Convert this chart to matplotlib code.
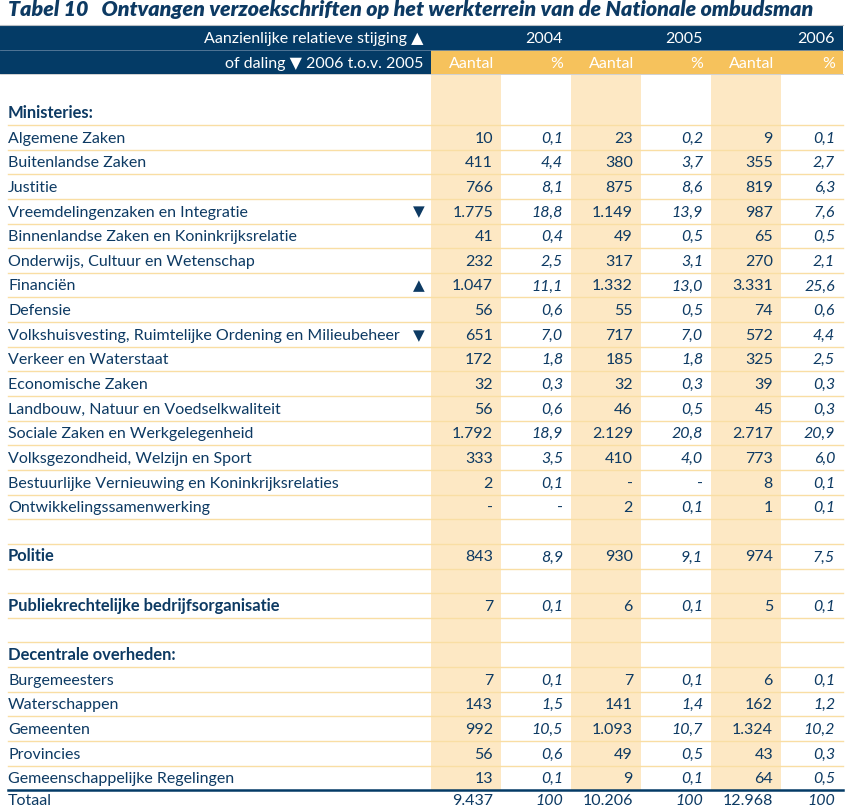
import matplotlib as mpl
import matplotlib.pyplot as plt

mpl.rcParams['font.family'] = ['Lato', 'DejaVu Sans']

### colours
NAVY = '#043b66'
TXT = '#0d3a63'
ORANGE = '#f6c25c'
BAND = '#fde8c4'
RULE = '#f9dea4'

### data
title = "Tabel 10   Ontvangen verzoekschriften op het werkterrein van de Nationale ombudsman"
years = ['2004', '2005', '2006']
head1 = "Aanzienlijke relatieve stijging \u25B2"
head2 = "of daling \u25BC 2006 t.o.v. 2005"

labels = ["", "Ministeries:",
          "Algemene Zaken", "Buitenlandse Zaken", "Justitie",
          "Vreemdelingenzaken en Integratie",
          "Binnenlandse Zaken en Koninkrijksrelatie",
          "Onderwijs, Cultuur en Wetenschap", "Financiën", "Defensie",
          "Volkshuisvesting, Ruimtelijke Ordening en Milieubeheer",
          "Verkeer en Waterstaat", "Economische Zaken",
          "Landbouw, Natuur en Voedselkwaliteit",
          "Sociale Zaken en Werkgelegenheid",
          "Volksgezondheid, Welzijn en Sport",
          "Bestuurlijke Vernieuwing en Koninkrijksrelaties",
          "Ontwikkelingssamenwerking", "",
          "Politie", "",
          "Publiekrechtelijke bedrijfsorganisatie", "",
          "Decentrale overheden:",
          "Burgemeesters", "Waterschappen", "Gemeenten", "Provincies",
          "Gemeenschappelijke Regelingen",
          "Totaal"]
bold_labels = ["Ministeries:", "Politie",
               "Publiekrechtelijke bedrijfsorganisatie", "Decentrale overheden:"]
trends = {"Vreemdelingenzaken en Integratie": "\u25BC",
          "Financiën": "\u25B2",
          "Volkshuisvesting, Ruimtelijke Ordening en Milieubeheer": "\u25BC"}

# None = empty cell, 0 = '-'
aantal_2004 = [None, None, 10, 411, 766, 1775, 41, 232, 1047, 56, 651, 172, 32, 56,
               1792, 333, 2, 0, None, 843, None, 7, None, None,
               7, 143, 992, 56, 13, 9437]
pct_2004 = [None, None, 0.1, 4.4, 8.1, 18.8, 0.4, 2.5, 11.1, 0.6, 7.0, 1.8, 0.3, 0.6,
            18.9, 3.5, 0.1, 0, None, 8.9, None, 0.1, None, None,
            0.1, 1.5, 10.5, 0.6, 0.1, 100]
aantal_2005 = [None, None, 23, 380, 875, 1149, 49, 317, 1332, 55, 717, 185, 32, 46,
               2129, 410, 0, 2, None, 930, None, 6, None, None,
               7, 141, 1093, 49, 9, 10206]
pct_2005 = [None, None, 0.2, 3.7, 8.6, 13.9, 0.5, 3.1, 13.0, 0.5, 7.0, 1.8, 0.3, 0.5,
            20.8, 4.0, 0, 0.1, None, 9.1, None, 0.1, None, None,
            0.1, 1.4, 10.7, 0.5, 0.1, 100]
aantal_2006 = [None, None, 9, 355, 819, 987, 65, 270, 3331, 74, 572, 325, 39, 45,
               2717, 773, 8, 1, None, 974, None, 5, None, None,
               6, 162, 1324, 43, 64, 12968]
pct_2006 = [None, None, 0.1, 2.7, 6.3, 7.6, 0.5, 2.1, 25.6, 0.6, 4.4, 2.5, 0.3, 0.3,
            20.9, 6.0, 0.1, 0.1, None, 7.5, None, 0.1, None, None,
            0.1, 1.2, 10.2, 0.3, 0.5, 100]


def fmt_count(v):
    if v == 0:
        return '-'
    return f"{v:,}".replace(',', '.')


def fmt_pct(v):
    if v == 0:
        return '-'
    if v == 100:
        return '100'
    return f"{v:.1f}".replace('.', ',')


### layout (pixels)
W, H = 851, 809
x_left, x_right = 8, 843
col_edges = [431, 501, 571, 641, 711, 781, 843]
y_body, pitch = 75.7, 24.64
fs = 11.5

fig = plt.figure(figsize=(W / 100, H / 100), dpi=100)
ax = fig.add_axes([0, 0, 1, 1])
ax.set_xlim(0, W)
ax.set_ylim(H, 0)
ax.axis('off')

# title
ax.text(x_left, 15.5, title, fontsize=15.4, fontweight='heavy', style='italic',
        color=TXT, ha='left', va='baseline')

# header bars
ax.plot([0, x_right], [24.5, 24.5], color='#b9bec4', lw=0.8)
ax.fill_between([0, x_right], 25, 49.5, color=NAVY, lw=0)
ax.fill_between([0, col_edges[0]], 49.5, 74, color=NAVY, lw=0)
ax.fill_between([col_edges[0], x_right], 49.5, 74, color=ORANGE, lw=0)
ax.plot([0, x_right], [49.5, 49.5], color='#5d7f9e', lw=0.6)
ax.plot([0, x_right], [74.2, 74.2], color='#c9c9c9', lw=0.6)

ax.text(col_edges[0] - 8, 43.3, head1, fontsize=fs, color='white',
        ha='right', va='baseline')
ax.text(col_edges[0] - 8, 68.3, head2, fontsize=fs, color='white',
        ha='right', va='baseline')
for i, yr in enumerate(years):
    ax.text(col_edges[2 * i + 2] - 8, 43.3, yr, fontsize=fs, color='white',
            ha='right', va='baseline')
    ax.text(col_edges[2 * i] + 18, 68.3, 'Aantal', fontsize=fs, color='white',
            ha='left', va='baseline')
    ax.text(col_edges[2 * i + 2] - 8, 68.3, '%', fontsize=fs, color='white',
            ha='right', va='baseline')

n_rows = len(labels)
y_total_line = y_body + (n_rows - 1) * pitch

# shaded "Aantal" columns
for i in range(3):
    ax.fill_between([col_edges[2 * i], col_edges[2 * i + 1]], 74.5, y_total_line,
                    color=BAND, lw=0)

# row rules
for k in range(2, n_rows - 1):
    y = y_body + k * pitch
    ax.plot([x_left, x_right], [y, y], color=RULE, lw=1.0)
ax.plot([x_left, x_right], [y_total_line, y_total_line], color=NAVY, lw=1.8)

# cells
counts = [aantal_2004, aantal_2005, aantal_2006]
pcts = [pct_2004, pct_2005, pct_2006]
for r, lab in enumerate(labels):
    yb = y_body + (r + 0.5) * pitch + 5.3
    if r == n_rows - 1:
        yb -= 2.5    # keep the last row inside the canvas
    if lab:
        is_bold = lab in bold_labels
        ax.text(x_left, yb, lab, fontsize=fs + 0.4 if is_bold else fs, color=TXT,
                ha='left', va='baseline',
                fontweight='bold' if is_bold else 'normal')
    if lab in trends:
        ax.text(col_edges[0] - 12, yb, trends[lab], fontsize=fs - 0.5, color=TXT,
                ha='center', va='baseline', family='DejaVu Sans')
    for i in range(3):
        c = counts[i][r]
        p = pcts[i][r]
        if c is not None:
            ax.text(col_edges[2 * i + 1] - 8, yb, fmt_count(c), fontsize=fs,
                    color=TXT, ha='right', va='baseline')
        if p is not None:
            ax.text(col_edges[2 * i + 2] - 8, yb, fmt_pct(p), fontsize=fs,
                    color=TXT, ha='right', va='baseline',
                    style='normal' if p == 0 else 'italic')

fig.savefig('out.png', dpi=100)
